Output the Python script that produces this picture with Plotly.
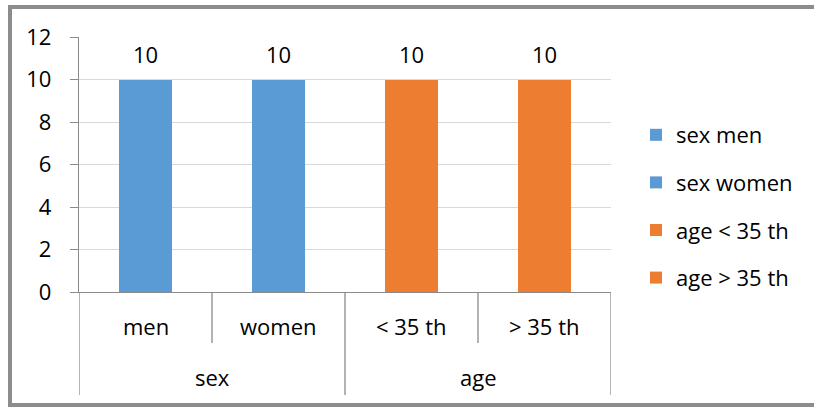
import plotly.graph_objects as go

# Data
groups = ["sex", "sex", "age", "age"]
categories = ["men", "women", "< 35 th", "> 35 th"]
values = [10, 10, 10, 10]
series_names = ["sex men", "sex women", "age < 35 th", "age > 35 th"]
colors = ["#5B9BD5", "#5B9BD5", "#ED7D31", "#ED7D31"]
y_ticks = [0, 2, 4, 6, 8, 10, 12]

# Plot-area geometry (pixels in the 814x408 page)
W_PAGE, H_PAGE = 814, 408
L, R, T, B = 79, 611, 37, 292
PW, PH = R - L, B - T


def px_x(p):
    return (p - L) / PW


def px_y(p):
    return (B - p) / PH


FONT = "Open Sans, Liberation Sans, Arial, sans-serif"
AXIS_GREY = "#8a8a8a"

fig = go.Figure()
for i, (cat, val, name, col) in enumerate(zip(categories, values, series_names, colors)):
    fig.add_trace(go.Bar(
        x=[cat], y=[val], name=name, legendgroup=name,
        marker=dict(color=col, line=dict(width=0)),
        width=0.4,
    ))

annotations = []
# value labels above bars
for cat, val in zip(categories, values):
    annotations.append(dict(
        x=cat, y=val, xref="x", yref="y", text=str(val), showarrow=False,
        yanchor="middle", yshift=26, font=dict(size=22, color="#000000", family=FONT),
    ))
# inner category labels
for cat in categories:
    annotations.append(dict(
        x=cat, y=0, xref="x", yref="paper", text=cat, showarrow=False,
        yanchor="middle", yshift=-34, font=dict(size=22, color="#000000", family=FONT),
    ))
# outer group labels, centred on their categories
seen = []
for g in groups:
    if g not in seen:
        seen.append(g)
for g in seen:
    idx = [i for i, gg in enumerate(groups) if gg == g]
    centre = (idx[0] + idx[-1]) / 2
    annotations.append(dict(
        x=centre, y=0, xref="x", yref="paper", text=g, showarrow=False,
        yanchor="middle", yshift=-85, font=dict(size=22, color="#000000", family=FONT),
    ))

shapes = []
# separators between inner categories
for i in range(len(categories) + 1):
    b = i - 0.5
    outer = i == 0 or i == len(categories) or groups[i - 1] != groups[i]
    shapes.append(dict(
        type="line", xref="x", yref="paper", x0=b, x1=b,
        y0=0, y1=px_y(395) if outer else px_y(343),
        line=dict(color=AXIS_GREY, width=1.3),
    ))
# chart frame
shapes.append(dict(
    type="rect", xref="paper", yref="paper",
    x0=px_x(10), x1=px_x(840), y0=px_y(405), y1=px_y(7),
    line=dict(color="#8c8c8c", width=4), fillcolor="rgba(0,0,0,0)", layer="above",
))

fig.update_layout(
    width=W_PAGE, height=H_PAGE,
    margin=dict(l=L, r=W_PAGE - R, t=T, b=H_PAGE - B, pad=0),
    paper_bgcolor="white", plot_bgcolor="white",
    barmode="overlay", bargap=0,
    font=dict(family=FONT, size=22, color="#000000"),
    showlegend=True,
    legend=dict(
        x=px_x(636), y=px_y(114), xanchor="left", yanchor="top",
        font=dict(size=22, family=FONT, color="#000000"),
        tracegroupgap=16, bgcolor="rgba(0,0,0,0)", itemclick=False,
    ),
    xaxis=dict(
        type="category", categoryorder="array", categoryarray=categories,
        range=[-0.5, len(categories) - 0.5],
        showticklabels=False, ticks="", showgrid=False, zeroline=False,
        showline=True, linecolor=AXIS_GREY, linewidth=1.3,
    ),
    yaxis=dict(
        range=[0, 12], tickvals=y_ticks, ticks="outside", ticklen=8,
        tickcolor=AXIS_GREY, tickwidth=1.3, ticklabelstandoff=14,
        showgrid=True, gridcolor="#d9d9d9", gridwidth=1.3, zeroline=False,
        showline=True, linecolor=AXIS_GREY, linewidth=1.3,
        tickfont=dict(size=22, color="#000000", family=FONT),
    ),
    annotations=annotations, shapes=shapes,
)

fig.write_html("out.html")
